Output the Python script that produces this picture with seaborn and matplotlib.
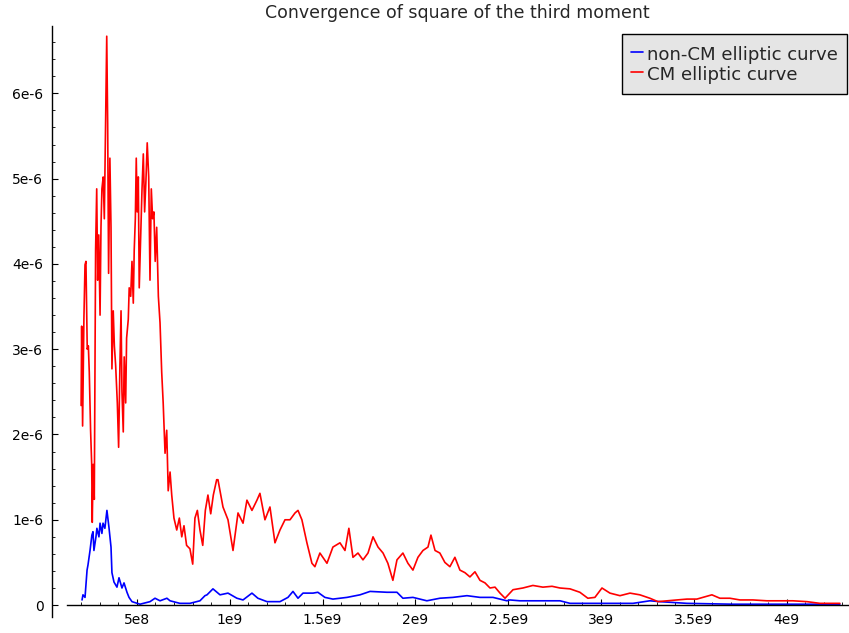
import numpy as np
import pandas as pd
import matplotlib
matplotlib.use("Agg")
import matplotlib.pyplot as plt
import matplotlib.ticker as mticker
import seaborn as sns

# x in units of 1e9, y in units of 1e-6
cm_x = [0.200, 0.203, 0.208, 0.215, 0.221, 0.226, 0.233, 0.239, 0.244, 0.251,
        0.257, 0.260, 0.265, 0.271, 0.278, 0.284, 0.289, 0.295, 0.302, 0.307,
        0.312, 0.319, 0.325, 0.330, 0.338, 0.343, 0.348, 0.355, 0.361, 0.366,
        0.373, 0.379, 0.386, 0.395, 0.402, 0.409, 0.415, 0.420, 0.427, 0.432,
        0.440, 0.445, 0.454, 0.459, 0.467, 0.474, 0.481, 0.486, 0.492, 0.497,
        0.502, 0.508, 0.513, 0.521, 0.528, 0.535, 0.542, 0.549, 0.556, 0.564,
        0.571, 0.578, 0.585, 0.592, 0.599, 0.607, 0.616, 0.625, 0.634, 0.642,
        0.652, 0.661, 0.669, 0.679, 0.688, 0.700, 0.715, 0.729, 0.742, 0.754,
        0.768, 0.786, 0.801, 0.813, 0.826, 0.840, 0.855, 0.869, 0.883, 0.898,
        0.912, 0.930, 0.937, 0.964, 0.991, 1.018, 1.045, 1.072, 1.093, 1.120,
        1.147, 1.163, 1.190, 1.217, 1.244, 1.271, 1.298, 1.325, 1.352, 1.368,
        1.389, 1.416, 1.443, 1.459, 1.486, 1.524, 1.556, 1.594, 1.621, 1.642,
        1.664, 1.691, 1.718, 1.745, 1.772, 1.799, 1.826, 1.852, 1.879, 1.901,
        1.933, 1.960, 1.987, 2.014, 2.041, 2.068, 2.084, 2.106, 2.132, 2.159,
        2.186, 2.213, 2.240, 2.267, 2.294, 2.321, 2.348, 2.375, 2.402, 2.429,
        2.456, 2.483, 2.509, 2.526, 2.579, 2.633, 2.687, 2.736, 2.779, 2.833,
        2.886, 2.929, 2.967, 3.005, 3.048, 3.102, 3.156, 3.209, 3.263, 3.306,
        3.355, 3.409, 3.463, 3.516, 3.549, 3.597, 3.640, 3.694, 3.748, 3.818,
        3.893, 3.963, 4.033, 4.109, 4.179, 4.233, 4.286]
cm_y = [2.34, 3.27, 2.10, 3.35, 3.99, 4.03, 3.00, 3.04, 2.73, 2.05,
        1.65, 0.97, 1.65, 1.24, 4.16, 4.88, 3.81, 4.34, 3.40, 4.43,
        4.88, 5.02, 4.53, 5.33, 6.67, 5.65, 3.89, 5.24, 4.43, 2.77,
        3.45, 3.04, 2.81, 2.37, 1.85, 2.81, 3.45, 2.50, 2.03, 2.91,
        2.37, 3.13, 3.35, 3.72, 3.62, 4.03, 3.54, 4.16, 4.53, 5.24,
        4.61, 5.02, 3.72, 4.34, 4.88, 5.29, 4.61, 4.97, 5.42, 5.02,
        3.81, 4.88, 4.53, 4.61, 4.03, 4.43, 3.62, 3.31, 2.73, 2.37,
        1.78, 2.05, 1.34, 1.56, 1.29, 1.02, 0.88, 1.02, 0.80, 0.93,
        0.70, 0.66, 0.48, 1.02, 1.11, 0.88, 0.70, 1.11, 1.29, 1.07,
        1.29, 1.47, 1.47, 1.15, 1.00, 0.64, 1.08, 0.96, 1.23, 1.11,
        1.23, 1.31, 1.00, 1.15, 0.73, 0.88, 1.00, 1.00, 1.08, 1.11,
        1.00, 0.73, 0.49, 0.45, 0.61, 0.49, 0.68, 0.73, 0.64, 0.90,
        0.56, 0.61, 0.53, 0.61, 0.80, 0.68, 0.61, 0.49, 0.29, 0.53,
        0.61, 0.49, 0.41, 0.56, 0.64, 0.68, 0.82, 0.64, 0.61, 0.50,
        0.45, 0.56, 0.41, 0.38, 0.33, 0.39, 0.29, 0.26, 0.20, 0.21,
        0.14, 0.08, 0.14, 0.18, 0.20, 0.23, 0.21, 0.22, 0.20, 0.19,
        0.15, 0.08, 0.09, 0.20, 0.14, 0.11, 0.14, 0.12, 0.08, 0.04,
        0.05, 0.06, 0.07, 0.07, 0.09, 0.12, 0.08, 0.08, 0.06, 0.06,
        0.05, 0.05, 0.05, 0.04, 0.02, 0.02, 0.02]

noncm_x = [0.205, 0.210, 0.221, 0.232, 0.237, 0.248, 0.258, 0.264, 0.269, 0.280,
           0.285, 0.296, 0.302, 0.312, 0.318, 0.328, 0.339, 0.350, 0.361, 0.366,
           0.377, 0.393, 0.404, 0.420, 0.431, 0.447, 0.458, 0.474, 0.517, 0.571,
           0.598, 0.625, 0.662, 0.679, 0.732, 0.786, 0.840, 0.867, 0.878, 0.910,
           0.948, 0.991, 1.039, 1.072, 1.120, 1.152, 1.201, 1.271, 1.314, 1.341,
           1.368, 1.395, 1.449, 1.475, 1.513, 1.556, 1.632, 1.702, 1.756, 1.847,
           1.901, 1.933, 1.987, 2.062, 2.132, 2.202, 2.278, 2.348, 2.418, 2.493,
           2.509, 2.563, 2.671, 2.779, 2.833, 2.994, 3.172, 3.263, 3.317, 3.463,
           3.710, 3.980, 4.286]
noncm_y = [0.06, 0.12, 0.09, 0.41, 0.47, 0.64, 0.82, 0.86, 0.64, 0.80,
           0.90, 0.80, 0.96, 0.84, 0.96, 0.90, 1.11, 0.91, 0.68, 0.38,
           0.27, 0.21, 0.32, 0.20, 0.26, 0.15, 0.09, 0.04, 0.01, 0.04,
           0.08, 0.05, 0.08, 0.05, 0.02, 0.02, 0.05, 0.11, 0.12, 0.19,
           0.12, 0.14, 0.08, 0.06, 0.14, 0.08, 0.04, 0.04, 0.09, 0.16,
           0.08, 0.14, 0.14, 0.15, 0.09, 0.07, 0.09, 0.12, 0.16, 0.15,
           0.15, 0.08, 0.09, 0.05, 0.08, 0.09, 0.11, 0.09, 0.09, 0.05,
           0.06, 0.05, 0.05, 0.05, 0.02, 0.02, 0.02, 0.05, 0.04, 0.02,
           0.01, 0.01, 0.01]

labels = ["non-CM elliptic curve", "CM elliptic curve"]
colors = ["blue", "red"]


def sci_label(v, pos):
    if abs(v) < 1e-30:
        return "0"
    e = int(np.floor(np.log10(abs(v)) + 1e-9))
    m = v / 10 ** e
    return f"{m:g}e{e}"


def main():
    sns.set_style("white")
    plt.rcParams["font.family"] = ["DejaVu Sans"]

    df_noncm = pd.DataFrame({"x": np.array(noncm_x) * 1e9, "y": np.array(noncm_y) * 1e-6})
    df_cm = pd.DataFrame({"x": np.array(cm_x) * 1e9, "y": np.array(cm_y) * 1e-6})

    fig = plt.figure(figsize=(8.49, 6.33), dpi=100)
    ax = fig.add_axes([67 / 849, 1 - 617 / 633, 781 / 849, 591 / 633])

    sns.lineplot(data=df_noncm, x="x", y="y", color=colors[0], lw=1.2,
                 estimator=None, sort=False, ax=ax, label=labels[0])
    sns.lineplot(data=df_cm, x="x", y="y", color=colors[1], lw=1.2,
                 estimator=None, sort=False, ax=ax, label=labels[1])

    ax.set_xlim(0.124e9, 4.33e9)
    ax.set_ylim(-0.14e-6, 6.79e-6)
    ax.set_xlabel("")
    ax.set_ylabel("")

    ax.spines["top"].set_visible(False)
    ax.spines["right"].set_visible(False)
    ax.spines["left"].set_position(("outward", 11))
    ax.spines["bottom"].set_position(("data", 0))
    for s in ["left", "bottom"]:
        ax.spines[s].set_color("black")
        ax.spines[s].set_linewidth(1.0)

    ax.xaxis.set_major_locator(mticker.MultipleLocator(5e8))
    ax.xaxis.set_minor_locator(mticker.MultipleLocator(1e8))
    ax.yaxis.set_major_locator(mticker.MultipleLocator(1e-6))
    ax.yaxis.set_minor_locator(mticker.MultipleLocator(2e-7))
    ax.xaxis.set_major_formatter(mticker.FuncFormatter(sci_label))
    ax.yaxis.set_major_formatter(mticker.FuncFormatter(sci_label))
    ax.tick_params(axis="both", which="major", direction="in", length=4.5,
                   width=0.8, labelsize=10, colors="black", pad=6)
    ax.tick_params(axis="both", which="minor", direction="in", length=2.3,
                   width=0.6, colors="black")
    ax.tick_params(axis="x", which="both", bottom=True, top=False)
    ax.tick_params(axis="y", which="both", left=True, right=False)

    ax.set_title("Convergence of square of the third moment", fontsize=12.5, pad=5.5)

    leg = ax.legend(loc="upper right", bbox_to_anchor=(847 / 849, 1 - 34 / 633),
                    bbox_transform=fig.transFigure, borderaxespad=0,
                    fontsize=13.1, handlelength=0.65, handletextpad=0.2,
                    handleheight=1.32, labelspacing=0.03, borderpad=0.52,
                    fancybox=False, frameon=True, facecolor="#e5e5e5",
                    edgecolor="black", framealpha=1)
    leg.get_frame().set_linewidth(1.0)

    fig.savefig("out.png", dpi=100)


if __name__ == "__main__":
    main()
